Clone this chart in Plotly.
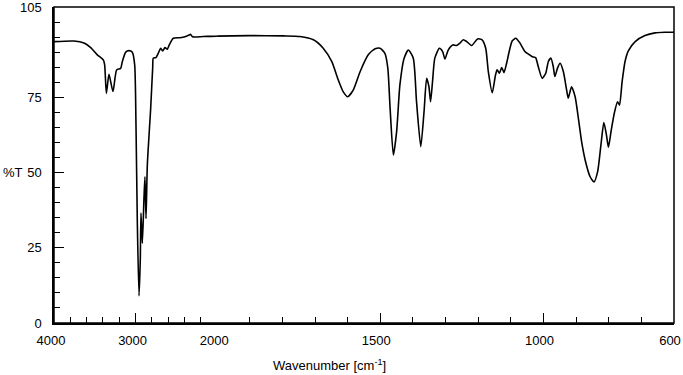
import plotly.graph_objects as go

# Wavenumber (cm^-1) and transmittance (%T)
wavenumber = [4000, 3755, 3632, 3550, 3469, 3395, 3379, 3358, 3326, 3277, 3232, 3183, 3162, 3121, 3081,
              3040, 3011, 2995, 2978, 2958, 2942, 2934, 2917, 2897, 2885, 2872, 2856, 2815, 2790,
              2783, 2750, 2722, 2692, 2668, 2640, 2611, 2587, 2538, 2456, 2395, 2342, 2326, 2301,
              2170, 2006, 1900, 1797, 1746, 1705, 1675, 1649, 1629, 1614, 1600, 1583, 1562, 1537,
              1516, 1501, 1486, 1477, 1470, 1460, 1450, 1440, 1427, 1414, 1399, 1389, 1376, 1366,
              1358, 1351, 1346, 1340, 1333, 1319, 1309, 1302, 1292, 1278, 1266, 1256, 1246, 1235,
              1220, 1202, 1188, 1177, 1169, 1157, 1147, 1142, 1135, 1128, 1121, 1113, 1105, 1096,
              1085, 1072, 1057, 1047, 1034, 1024, 1016, 1004, 993, 985, 977, 970, 965, 957, 949,
              939, 929, 924, 914, 903, 893, 883, 871, 857, 845, 834, 824, 815, 807, 801, 793, 783,
              773, 767, 759, 750, 740, 719, 689, 658, 628, 600]
transmittance = [93.5, 93.7, 93.0, 91.5, 89.1, 87.4, 85.8, 76.3, 82.6, 76.9, 84.1, 84.6, 86.9, 90.0, 90.5,
                 90.0, 85.8, 65.8, 32.6, 9.0, 21.4, 36.5, 26.5, 41.5, 48.6, 34.7, 52.5, 71.3, 85.0,
                 88.0, 88.2, 89.6, 91.3, 90.4, 91.5, 91.0, 92.4, 94.6, 94.8, 95.1, 95.7, 95.9, 95.1,
                 95.2, 95.3, 95.5, 95.4, 95.2, 94.1, 91.3, 86.9, 80.8, 76.9, 75.2, 77.4, 83.5, 89.1,
                 91.1, 91.3, 89.6, 84.7, 71.3, 55.8, 63.6, 79.1, 88.0, 90.7, 88.0, 73.5, 58.6, 70.2,
                 81.3, 78.5, 73.5, 80.2, 88.0, 91.3, 90.2, 87.7, 90.7, 92.4, 92.2, 93.0, 94.1, 93.5,
                 92.2, 94.4, 94.1, 91.3, 83.5, 76.5, 82.4, 84.1, 83.0, 84.9, 83.2, 86.3, 90.2, 93.7,
                 94.6, 93.0, 90.2, 89.4, 88.5, 88.2, 85.2, 81.3, 83.0, 86.9, 88.0, 85.2, 81.9, 84.7, 86.3,
                 83.5, 77.4, 74.7, 78.5, 75.2, 68.0, 60.2, 53.6, 48.6, 46.9, 50.3, 59.1, 66.6, 62.5, 58.4, 63.6, 69.7,
                 73.5, 72.4, 80.2, 86.9, 90.4, 93.5, 95.5, 96.4, 96.6, 96.6]

x_major_left = [4000, 3000, 2000]
x_minor_left = [3800, 3600, 3400, 3200, 2800, 2600, 2400, 2200]
x_major_right = [1500, 1000, 600]
x_minor_right = [1900, 1800, 1700, 1600, 1400, 1300, 1200, 1100, 900, 800, 700]
y_major = [0, 25, 50, 75, 105]
y_minor = [v for v in range(5, 105, 5) if v not in (25, 50, 75)]

FONT = "Liberation Sans, Arial, sans-serif"
split = 2000 / 7600  # 4000-2000 drawn at a quarter of the 2000-600 scale

fig = go.Figure()
line = dict(color="black", width=1.6, shape="spline", smoothing=0.6)
fig.add_trace(go.Scatter(x=wavenumber, y=transmittance, mode="lines", line=line,
                         xaxis="x", yaxis="y", showlegend=False, hoverinfo="skip"))
fig.add_trace(go.Scatter(x=wavenumber, y=transmittance, mode="lines", line=line,
                         xaxis="x2", yaxis="y", showlegend=False, hoverinfo="skip"))

tickfont = dict(family=FONT, size=13, color="black")
common = dict(ticks="inside", ticklen=10, tickwidth=1, tickcolor="black", showgrid=False,
              zeroline=False, showline=True, linecolor="black", linewidth=1.5,
              tickfont=tickfont, fixedrange=True, automargin=False, ticklabeloverflow="allow")

fig.update_layout(
    width=683, height=375,
    margin=dict(l=54, r=9, t=7, b=52, autoexpand=False),
    paper_bgcolor="white", plot_bgcolor="white",
    xaxis=dict(domain=[0, split], range=[4000, 2000], tickvals=x_major_left,
               ticktext=[str(v) for v in x_major_left], anchor="y",
               minor=dict(tickvals=x_minor_left, ticks="inside", ticklen=6, tickcolor="black", tickwidth=1),
               ticklabelstandoff=5, ticklabelshift=3, **common),
    xaxis2=dict(domain=[split, 1], range=[2000, 600], tickvals=x_major_right,
                ticktext=[str(v) for v in x_major_right], anchor="y",
                minor=dict(tickvals=x_minor_right, ticks="inside", ticklen=6, tickcolor="black", tickwidth=1),
                ticklabelstandoff=5, ticklabelshift=4, **common),
    yaxis=dict(range=[0, 105], tickvals=y_major, ticktext=[str(v) for v in y_major],
               minor=dict(tickvals=y_minor, ticks="inside", ticklen=6, tickcolor="black", tickwidth=1),
               ticklabelstandoff=8, **common),
    shapes=[dict(type="rect", xref="paper", yref="paper", x0=0, y0=0, x1=1, y1=1,
                 line=dict(color="black", width=1.5), fillcolor="rgba(0,0,0,0)")],
    annotations=[
        dict(text="Wavenumber [cm<sup>-1</sup>]", xref="paper", yref="paper", x=0.445, y=-0.134,
             xanchor="center", yanchor="middle", showarrow=False, font=dict(family=FONT, size=13, color="black")),
        dict(text="%T", xref="paper", yref="y", x=-0.066, y=50, xanchor="center", yanchor="middle",
             showarrow=False, font=dict(family=FONT, size=13, color="black")),
    ],
)

fig.write_html("out.html", config={"displayModeBar": False},
               post_script="document.body.style.margin='0';document.body.style.padding='0';"
                           "document.documentElement.style.overflow='hidden';")
